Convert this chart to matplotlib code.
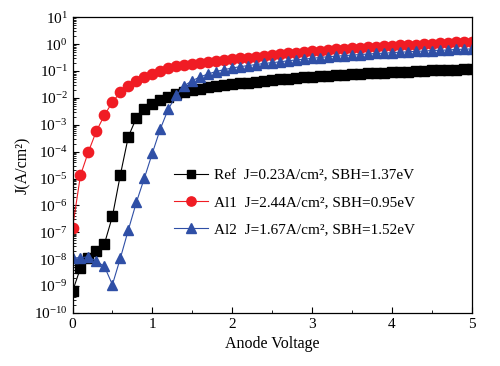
import numpy as np
import matplotlib
matplotlib.use('Agg')
import matplotlib.pyplot as plt
from matplotlib.ticker import LogLocator, MultipleLocator, NullFormatter

plt.rcParams['font.family'] = ['Liberation Serif', 'DejaVu Serif']
plt.rcParams['mathtext.fontset'] = 'stix'

# anode voltage, 0.1 V steps
voltage = np.round(np.arange(0, 51) * 0.1, 1)

# log10 of J (A/cm^2)
ref_log = [-9.20, -8.33, -7.96, -7.68, -7.43, -6.41, -4.86, -3.44, -2.75, -2.42,
           -2.23, -2.07, -1.95, -1.86, -1.78, -1.72, -1.66, -1.61, -1.57, -1.53,
           -1.49, -1.46, -1.43, -1.40, -1.37, -1.34, -1.31, -1.29, -1.26, -1.24,
           -1.22, -1.19, -1.17, -1.15, -1.14, -1.12, -1.10, -1.09, -1.07, -1.06,
           -1.04, -1.03, -1.02, -1.00, -0.99, -0.98, -0.97, -0.96, -0.95, -0.94,
           -0.93]
al1_log = [-6.84, -4.88, -4.00, -3.23, -2.65, -2.15, -1.80, -1.56, -1.38, -1.24,
           -1.12, -1.00, -0.90, -0.83, -0.78, -0.73, -0.69, -0.65, -0.62, -0.59,
           -0.56, -0.53, -0.50, -0.47, -0.44, -0.41, -0.38, -0.35, -0.32, -0.30,
           -0.27, -0.25, -0.22, -0.20, -0.18, -0.16, -0.14, -0.12, -0.10, -0.08,
           -0.06, -0.05, -0.03, -0.02, 0.00, 0.01, 0.03, 0.04, 0.06, 0.07,
           0.09]
al2_log = [-7.96, -7.94, -7.92, -8.08, -8.27, -8.95, -7.96, -6.91, -5.89, -4.99,
           -4.06, -3.16, -2.42, -1.91, -1.55, -1.36, -1.22, -1.11, -1.02, -0.95,
           -0.89, -0.84, -0.80, -0.76, -0.72, -0.69, -0.66, -0.62, -0.59, -0.56,
           -0.53, -0.50, -0.47, -0.45, -0.43, -0.41, -0.39, -0.37, -0.35, -0.34,
           -0.32, -0.30, -0.29, -0.27, -0.26, -0.24, -0.23, -0.22, -0.20, -0.19,
           -0.18]

labels = ['Ref  J=0.23A/cm\u00b2, SBH=1.37eV',
          'Al1  J=2.44A/cm\u00b2, SBH=0.95eV',
          'Al2  J=1.67A/cm\u00b2, SBH=1.52eV']

fig = plt.figure(figsize=(5, 3.66), dpi=100)
ax = fig.add_axes([0.145, 0.145, 0.798, 0.808])

ax.plot(voltage, 10 ** np.array(ref_log), '-s', color='black', lw=0.8,
        ms=6.8, label=labels[0])
ax.plot(voltage, 10 ** np.array(al1_log), '-o', color='#f01c24', lw=0.8,
        ms=7.4, label=labels[1])
ax.plot(voltage, 10 ** np.array(al2_log), '-^', color='#2f4fa6', lw=0.8,
        ms=7.8, label=labels[2])

ax.set_yscale('log')
ax.set_xlim(0, 5)
ax.set_ylim(1e-10, 10)
ax.yaxis.set_major_locator(LogLocator(base=10, numticks=20))
ax.yaxis.set_minor_locator(LogLocator(base=10, subs=np.arange(2, 10), numticks=20))
ax.yaxis.set_minor_formatter(NullFormatter())
ax.xaxis.set_major_locator(MultipleLocator(1))
ax.xaxis.set_minor_locator(MultipleLocator(0.5))
ax.tick_params(which='both', direction='in', top=False, right=False, labelsize=11)
ax.tick_params(which='major', length=4, width=0.8)
ax.tick_params(which='minor', length=2, width=0.6)
for s in ax.spines.values():
    s.set_linewidth(0.9)

ax.set_xlabel('Anode Voltage', fontsize=11.5, labelpad=4)
ax.set_ylabel('J(A/cm\u00b2)', fontsize=11.5, labelpad=2)

ax.legend(loc='upper left', bbox_to_anchor=(0.255, 0.487), frameon=False,
          fontsize=11, borderpad=0, borderaxespad=0, handlelength=2.2,
          handletextpad=0.4, labelspacing=0.86, markerscale=0.9)

fig.savefig('out.png', dpi=100)
